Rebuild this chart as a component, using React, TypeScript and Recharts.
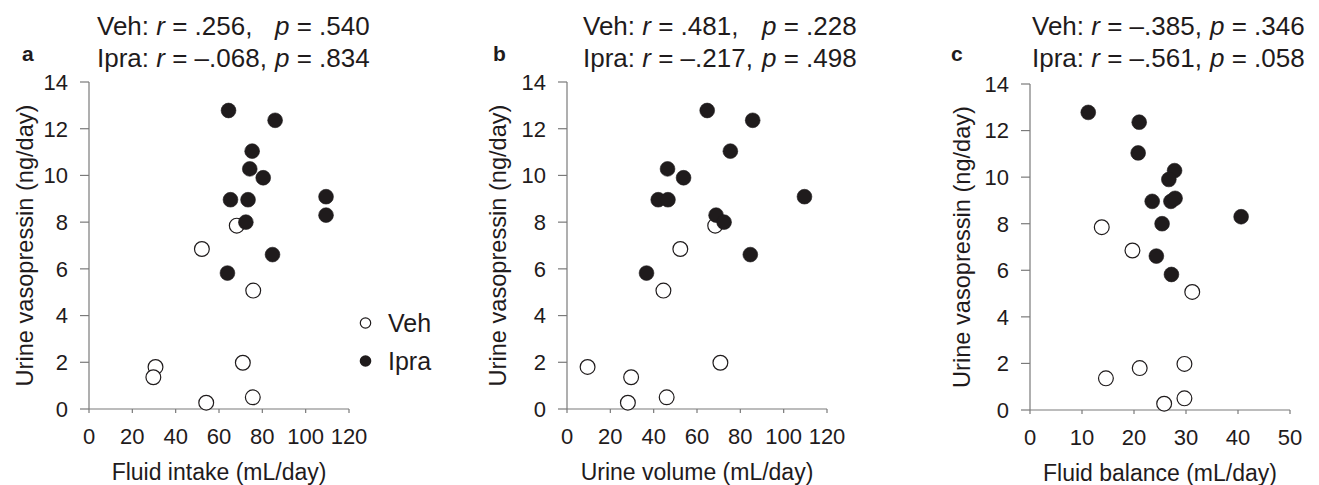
import { Label, Legend, Scatter, ScatterChart, XAxis, YAxis } from "recharts";

const FONT = '"Liberation Sans", Arial, Helvetica, sans-serif';
const INK = "#1f1b1c";
const AXIS = "#7a7a7a";

const vasoTicks = [0, 2, 4, 6, 8, 10, 12, 14];
const volumeTicks = [0, 20, 40, 60, 80, 100, 120];
const balanceTicks = [0, 10, 20, 30, 40, 50];

// urine vasopressin (ng/day), same animals in every panel
const vehVasopressin = [7.85, 6.85, 5.07, 1.8, 1.36, 1.98, 0.27, 0.5];
const ipraVasopressin = [12.78, 12.36, 11.04, 10.28, 9.9, 8.96, 8.96, 9.09, 8.3, 8.0, 6.61, 5.82];

const vehIntake = [68.2, 52.1, 75.8, 30.7, 29.7, 71.0, 54.1, 75.6];
const ipraIntake = [64.4, 85.9, 75.3, 74.2, 80.4, 65.3, 73.4, 109.4, 109.4, 72.4, 84.7, 63.9];

const vehUrine = [68.4, 52.3, 44.5, 9.5, 29.6, 70.8, 28.1, 46.0];
const ipraUrine = [64.7, 85.7, 75.4, 46.4, 53.8, 42.1, 46.6, 109.6, 68.8, 72.5, 84.6, 36.7];

const vehBalance = [13.8, 19.7, 31.2, 21.1, 14.6, 29.7, 25.8, 29.7];
const ipraBalance = [11.2, 21.0, 20.8, 27.8, 26.7, 23.5, 27.1, 27.9, 40.6, 25.4, 24.3, 27.2];

const vehStats = [
  { r: ".256", p: ".540" },
  { r: ".481", p: ".228" },
  { r: "–.385", p: ".346" },
];
const ipraStats = [
  { r: "–.068", p: ".834" },
  { r: "–.217", p: ".498" },
  { r: "–.561", p: ".058" },
];

const panels = [
  { letter: "a", xLabel: "Fluid intake (mL/day)", veh: vehIntake, ipra: ipraIntake, ticks: volumeTicks, left: 0, width: 440, top: 82, bottom: 409, yOff: 11, titleX: 97, pX: 275, letterX: 22 },
  { letter: "b", xLabel: "Urine volume (mL/day)", veh: vehUrine, ipra: ipraUrine, ticks: volumeTicks, left: 478, width: 400, top: 82, bottom: 409, yOff: 6, titleX: 583, pX: 762, letterX: 493 },
  { letter: "c", xLabel: "Fluid balance (mL/day)", veh: vehBalance, ipra: ipraBalance, ticks: balanceTicks, left: 941, width: 378, top: 84, bottom: 410, yOff: 7, titleX: 1032, pX: 1210, letterX: 951 },
];

const openDot = (props: any) => (
  <circle cx={props.cx} cy={props.cy} r={7.4} fill="#fff" stroke={INK} strokeWidth={1.2} />
);
const filledDot = (props: any) => (
  <circle cx={props.cx} cy={props.cy} r={7.4} fill={INK} stroke={INK} strokeWidth={0.6} />
);

function LegendBox() {
  return (
    <svg width={90} height={80} style={{ display: "block", fontFamily: FONT }}>
      <circle cx={10.5} cy={18} r={5.2} fill="#fff" stroke={INK} strokeWidth={1.2} />
      <text x={33} y={27} fontSize={25} fill={INK}>Veh</text>
      <circle cx={10.5} cy={56} r={5.8} fill={INK} />
      <text x={33} y={65} fontSize={25} fill={INK}>Ipra</text>
    </svg>
  );
}

export default function App() {
  return (
    <div style={{ position: "absolute", left: 0, top: 0, width: 1319, height: 485, background: "#fff", overflow: "hidden", fontFamily: FONT }}>
      {panels.map((pn, i) => (
        <div key={pn.letter} style={{ position: "absolute", left: pn.left, top: 0 }}>
          <ScatterChart
            width={pn.width}
            height={485}
            margin={{ top: pn.top, right: pn.width - 89 - 260, bottom: 485 - pn.bottom - 40, left: 14 }}
          >
            <XAxis
              type="number"
              dataKey="x"
              domain={[0, pn.ticks[pn.ticks.length - 1]]}
              ticks={pn.ticks}
              interval={0}
              height={40}
              tickSize={4}
              tickMargin={15}
              axisLine={{ stroke: AXIS, strokeWidth: 1.2 }}
              tickLine={{ stroke: AXIS, strokeWidth: 1.2 }}
              tick={{ fill: INK, fontSize: 22 }}
            >
              <Label value={pn.xLabel} position="bottom" offset={15} style={{ fill: INK, fontSize: 23 }} />
            </XAxis>
            <YAxis
              type="number"
              dataKey="y"
              domain={[0, 14]}
              ticks={vasoTicks}
              interval={0}
              width={75}
              tickSize={9}
              tickMargin={12}
              axisLine={{ stroke: AXIS, strokeWidth: 1.2 }}
              tickLine={{ stroke: AXIS, strokeWidth: 1.2 }}
              tick={{ fill: INK, fontSize: 22 }}
            >
              <Label
                value="Urine vasopressin (ng/day)"
                angle={-90}
                position="insideLeft"
                offset={pn.yOff}
                style={{ fill: INK, fontSize: 23.6, textAnchor: "middle" }}
              />
            </YAxis>
            <Scatter
              name="Veh"
              data={pn.veh.map((x, k) => ({ x, y: vehVasopressin[k] }))}
              fill="#fff"
              shape={openDot}
              isAnimationActive={false}
            />
            <Scatter
              name="Ipra"
              data={pn.ipra.map((x, k) => ({ x, y: ipraVasopressin[k] }))}
              fill={INK}
              shape={filledDot}
              isAnimationActive={false}
            />
            {i === 0 && (
              <Legend
                layout="vertical"
                align="center"
                verticalAlign="middle"
                wrapperStyle={{ left: 355, top: 305, width: 90, height: 80 }}
                content={() => <LegendBox />}
              />
            )}
          </ScatterChart>
        </div>
      ))}
      <svg width={1319} height={90} style={{ position: "absolute", left: 0, top: 0, pointerEvents: "none", fontFamily: FONT }}>
        {panels.map((pn, i) => (
          <g key={pn.letter} fill={INK}>
            <text x={pn.letterX} y={60.5} fontSize={21} fontWeight="bold">{pn.letter}</text>
            <text x={pn.titleX} y={35} fontSize={26}>
              Veh: <tspan fontStyle="italic">r</tspan> = {vehStats[i].r},
            </text>
            <text x={pn.pX} y={35} fontSize={26}>
              <tspan fontStyle="italic">p</tspan> = {vehStats[i].p}
            </text>
            <text x={pn.titleX} y={67} fontSize={26}>
              Ipra: <tspan fontStyle="italic">r</tspan> = {ipraStats[i].r},
            </text>
            <text x={pn.pX} y={67} fontSize={26}>
              <tspan fontStyle="italic">p</tspan> = {ipraStats[i].p}
            </text>
          </g>
        ))}
      </svg>
    </div>
  );
}
